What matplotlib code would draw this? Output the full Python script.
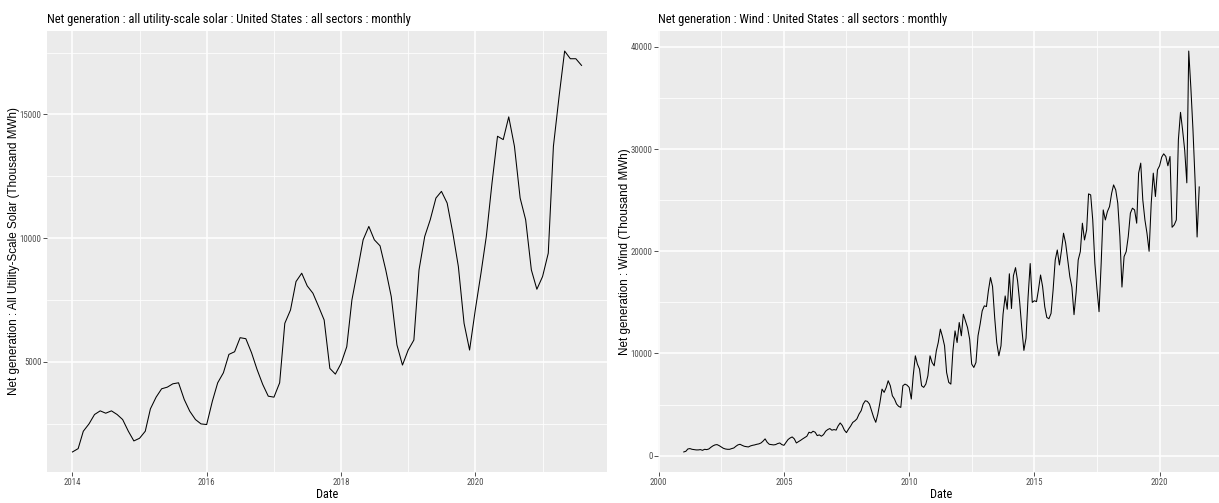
import matplotlib
matplotlib.use("Agg")
import matplotlib.pyplot as plt
import matplotlib.dates as mdates
import pandas as pd

# monthly net generation, thousand MWh
solar = [
    1352, 1487, 2190, 2487, 2866, 3014, 2919, 3014, 2866, 2663, 2190, 1798,
    1906, 2190, 3095, 3568, 3906, 3973, 4108, 4149, 3473, 3000, 2663, 2487,
    2460, 3406, 4149, 4554, 5297, 5405, 5973, 5932, 5365, 4689, 4081, 3608,
    3568, 4149, 6554, 7094, 8243, 8580, 8067, 7770, 7229, 6689, 4730, 4500,
    4932, 5608, 7499, 8715, 9931, 10472, 9931, 9688, 8715, 7634, 5676, 4865,
    5473, 5878, 8715, 10066, 10742, 11620, 11890, 11417, 10201, 8850, 6554, 5473,
    7094, 8580, 10066, 12228, 14119, 13984, 14903, 13714, 11620, 10742, 8715, 7932,
    8445, 9391, 13714, 15741, 17565, 17254, 17254, 16984,
]

wind = [
    360, 430, 650, 690, 620, 590, 560, 560, 590, 520, 620, 590,
    650, 820, 950, 1050, 1080, 980, 850, 720, 650, 620, 620, 690,
    750, 920, 1050, 1110, 1010, 920, 880, 850, 950, 1010, 1050, 1110,
    1150, 1240, 1410, 1640, 1310, 1110, 1080, 1050, 1080, 1180, 1240, 1080,
    1010, 1310, 1570, 1730, 1830, 1640, 1240, 1370, 1500, 1640, 1770, 1900,
    2290, 2220, 2390, 2290, 1960, 2030, 1900, 2060, 2390, 2550, 2650, 2490,
    2550, 2500, 2900, 3200, 2950, 2500, 2250, 2600, 2900, 3250, 3400, 3600,
    4070, 4400, 5050, 5370, 5310, 5050, 4400, 3750, 3260, 4070, 5210, 6510,
    6190, 6680, 7330, 6840, 5860, 5540, 5050, 4820, 4720, 6840, 7000, 6900,
    6680, 5540, 7820, 9770, 8960, 8470, 6840, 6680, 7000, 7820, 9770, 9120,
    8790, 10260, 11070, 12380, 11660, 10750, 8140, 7170, 7000, 10260, 12210, 11070,
    13030, 11730, 13840, 13190, 12540, 11400, 8960, 8630, 9120, 11730, 12870, 14170,
    14660, 14590, 16120, 17430, 16550, 13520, 11070, 9770, 10750, 13840, 15630, 14330,
    17800, 14400, 17600, 18400, 17100, 15000, 12500, 10300, 11500, 15500, 18800, 15000,
    15160, 15070, 16210, 17680, 16540, 14580, 13530, 13400, 13920, 16210, 19150, 20130,
    18660, 20130, 21770, 20780, 19150, 17520, 16500, 13800, 16000, 19150, 19970, 22750,
    21110, 22090, 25620, 25520, 23070, 18820, 16370, 14090, 18820, 24050, 23070, 23890,
    24380, 25690, 26500, 26010, 24710, 21440, 16500, 19480, 19970, 21440, 23730, 24220,
    24050, 22750, 27650, 28630, 25030, 23070, 21770, 20000, 24710, 27650, 25360, 27970,
    28370, 29220, 29540, 29280, 28370, 29280, 22350, 22580, 23070, 30920, 33600, 31900,
    29900, 26700, 39600, 36000, 32000, 27000, 21400, 26300,
]

solar_dates = pd.date_range("2014-01-01", periods=len(solar), freq="MS")
wind_dates = pd.date_range("2001-01-01", periods=len(wind), freq="MS")

solar_years = [2014, 2016, 2018, 2020]
solar_minor = ["2015-01-01", "2017-01-01", "2019-01-01", "2021-01-01"]
wind_years = [2000, 2005, 2010, 2015, 2020]
wind_minor = ["2002-07-02", "2007-07-02", "2012-07-02", "2017-07-02", "2022-07-02"]

narrow = ["Roboto Condensed", "DejaVu Sans"]
regular = ["Liberation Sans", "DejaVu Sans"]

W, H = 1219, 503
fig = plt.figure(figsize=(W / 100, H / 100), dpi=100)


def panel(px, dates, values, title, ylabel, years, minor, ymajor, yminor):
    left, right = px
    ax = fig.add_axes([left / W, 31 / H, (right - left) / W, 441 / H])
    ax.set_facecolor("#EBEBEB")
    x = mdates.date2num(dates)
    ax.plot(x, values, color="black", lw=0.75)

    # ggplot-style 5% expansion on both axes
    span = x[-1] - x[0]
    ax.set_xlim(x[0] - 0.05 * span, x[-1] + 0.05 * span)
    lo, hi = min(values), max(values)
    ax.set_ylim(lo - 0.05 * (hi - lo), hi + 0.05 * (hi - lo))

    ax.set_xticks(mdates.date2num([pd.Timestamp(f"{y}-01-01") for y in years]))
    ax.set_xticklabels([str(y) for y in years])
    ax.set_xticks(mdates.date2num(pd.to_datetime(minor)), minor=True)
    ax.set_yticks(ymajor)
    ax.set_yticklabels([str(v) for v in ymajor])
    ax.set_yticks(yminor, minor=True)

    ax.grid(which="major", color="white", lw=1.1)
    ax.grid(which="minor", color="white", lw=0.55)
    ax.set_axisbelow(True)
    for s in ax.spines.values():
        s.set_visible(False)
    ax.tick_params(which="major", length=2.8, width=0.6, color="#333333",
                   labelcolor="#4D4D4D", labelsize=6.3, pad=1.2)
    ax.tick_params(which="minor", length=0)
    for lab in ax.get_xticklabels() + ax.get_yticklabels():
        lab.set_family(narrow)

    ax.set_xlabel("Date", family=narrow, fontsize=8.8, color="black")
    ax.xaxis.set_label_coords(0.5, -0.036)
    ax.set_ylabel(ylabel, family=regular, fontsize=8.4, color="black")
    ax.yaxis.set_label_coords(-27 / (right - left), 0.5)
    ax.set_title(title, loc="left", family=narrow, fontsize=9.0, pad=5.5)
    return ax


panel((47, 607), solar_dates, solar,
      "Net generation : all utility-scale solar : United States : all sectors : monthly",
      "Net generation : All Utility-Scale Solar (Thousand MWh)",
      solar_years, solar_minor, [5000, 10000, 15000], [2500, 7500, 12500, 17500])

panel((658, 1225), wind_dates, wind,
      "Net generation : Wind : United States : all sectors : monthly",
      "Net generation : Wind (Thousand MWh)",
      wind_years, wind_minor, [0, 10000, 20000, 30000, 40000],
      [5000, 15000, 25000, 35000])

fig.savefig("out.png", dpi=100)
